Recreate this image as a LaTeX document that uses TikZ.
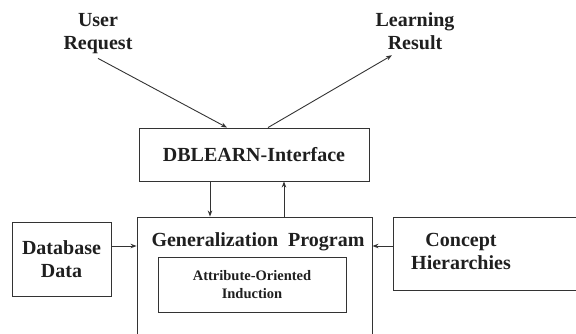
\documentclass[tikz,border=0pt]{standalone}
\usepackage{fontspec}
\setmainfont{Liberation Serif}
\usetikzlibrary{arrows.meta}
\begin{document}
\begin{tikzpicture}[x=1pt,y=-1pt,
  every node/.style={text=black!88,font=\bfseries\fontsize{20}{23}\selectfont,align=center,inner sep=0pt},
  box/.style={draw=black!80,line width=0.9pt},
  arr/.style={draw=black!80,line width=0.9pt,-{Stealth[length=6pt,width=4.5pt]}}]
\useasboundingbox (0,0) rectangle (576,333);
\clip (0,0) rectangle (576,333);
\node[box,minimum width=230pt,minimum height=53pt] (dbl) at (254,154.5) {DBLEARN-Interface};
\node[box,minimum width=235pt,minimum height=140pt] (gen) at (254.5,287) {};
\node[anchor=base] (gentitle) at (258,246) {Generalization\ \ Program};
\node[box,minimum width=188pt,minimum height=55pt,font=\bfseries\fontsize{14.5}{18}\selectfont] (aoi) at (252,284.5) {Attribute-Oriented\\Induction};
\node[box,minimum width=99pt,minimum height=74pt] (db) at (61.5,259) {Database\\Data};
\node[box,minimum width=210pt,minimum height=73pt] (conbox) at (498,253.5) {};
\node (con) at (461,251) {Concept\\Hierarchies};
\node (user) at (98,34) {User\\Request};
\node (learn) at (415,31.5) {Learning\\Result};
\coordinate (ay) at (0,246);
\coordinate (ux) at (227,0);
\coordinate (lx) at (268,0);
\coordinate (d1) at (210,0);
\coordinate (d2) at (284,0);
\draw[arr] ([yshift=-4pt]user.south) -- (dbl.north -| ux);
\draw[arr] (dbl.north -| lx) -- ([xshift=-23pt,yshift=-5pt]learn.south);
\draw[arr] (dbl.south -| d1) -- (gen.north -| d1);
\draw[arr] (gen.north -| d2) -- (dbl.south -| d2);
\draw[arr] (db.east |- ay) -- (gen.west |- ay);
\draw[arr] (conbox.west |- ay) -- (gen.east |- ay);
\end{tikzpicture}
\end{document}
